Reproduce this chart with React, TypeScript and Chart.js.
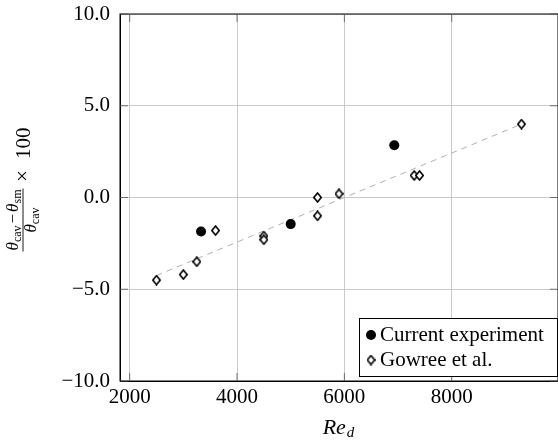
import React, { useEffect, useRef } from 'react';
import { Chart, registerables } from 'chart.js';

Chart.register(...registerables);

const FONT = '"Liberation Serif", "Times New Roman", serif';

// ---- data ----
const seriesLabels = ['Current experiment', 'Gowree et al.'];
const currentRe = [3330, 5000, 6930];
const currentVal = [-1.85, -1.45, 2.85];
const gowreeRe = [2500, 3000, 3250, 3600, 4500, 4500, 5500, 5500, 5900, 7300, 7400, 9300];
const gowreeVal = [-4.5, -4.2, -3.5, -1.8, -2.1, -2.3, 0.0, -1.0, 0.2, 1.2, 1.2, 4.0];
const fitRe = [2500, 9300];
const fitVal = [-4.25, 4.0];
const xTicks = [2000, 4000, 6000, 8000];
const yTicks = [-10, -5, 0, 5, 10];
const xRange = [1820, 9980];
const yRange = [-10, 10];

const fmtY = (v: number) => v.toFixed(1).replace('-', '\u2212');

function makeDiamond(): HTMLImageElement {
  const S = 4;
  const c = document.createElement('canvas');
  c.width = 9 * S;
  c.height = 11 * S;
  const g = c.getContext('2d')!;
  g.scale(S, S);
  g.beginPath();
  g.moveTo(4.5, 1.0);
  g.lineTo(8.2, 5.5);
  g.lineTo(4.5, 10.0);
  g.lineTo(0.8, 5.5);
  g.closePath();
  g.fillStyle = '#fff';
  g.fill();
  g.lineWidth = 1.6;
  g.lineJoin = 'miter';
  g.strokeStyle = '#000';
  g.stroke();
  const img = new Image(9, 11);
  img.src = c.toDataURL();
  return img;
}

export default function App() {
  const ref = useRef<HTMLCanvasElement>(null);

  useEffect(() => {
    const canvas = ref.current!;
    const diamond = makeDiamond();

    const decor = {
      id: 'decor',
      beforeDatasetsDraw(chart: any) {
        const { ctx, chartArea: a, scales } = chart;
        ctx.save();
        ctx.strokeStyle = '#000';
        ctx.lineWidth = 1;
        ctx.strokeRect(a.left, a.top, a.right - a.left, a.bottom - a.top);
        ctx.strokeStyle = '#555';
        ctx.lineWidth = 0.8;
        const L = 8;
        ctx.beginPath();
        for (const v of xTicks) {
          const p = scales.x.getPixelForValue(v);
          ctx.moveTo(p, a.bottom);
          ctx.lineTo(p, a.bottom - L);
          ctx.moveTo(p, a.top);
          ctx.lineTo(p, a.top + L);
        }
        for (const v of yTicks) {
          const p = scales.y.getPixelForValue(v);
          ctx.moveTo(a.left, p);
          ctx.lineTo(a.left + L, p);
          ctx.moveTo(a.right, p);
          ctx.lineTo(a.right - L, p);
        }
        ctx.stroke();
        ctx.restore();
      },
      afterDraw(chart: any) {
        const { ctx, chartArea: a } = chart;
        ctx.save();
        ctx.fillStyle = '#000';
        ctx.textBaseline = 'alphabetic';

        // x title: Re_d
        const fRe = `italic 22px ${FONT}`;
        const fD = `italic 15px ${FONT}`;
        ctx.font = fRe;
        const wRe = ctx.measureText('Re').width;
        ctx.font = fD;
        const wD = ctx.measureText('d').width;
        const cx = (a.left + a.right) / 2 - 1;
        const x0 = cx - (wRe + wD) / 2;
        ctx.font = fRe;
        ctx.fillText('Re', x0, 434);
        ctx.font = fD;
        ctx.fillText('d', x0 + wRe + 1, 437);

        // y title (rotated fraction)
        ctx.save();
        ctx.translate(23, 191);
        ctx.rotate(-Math.PI / 2);
        const big = `17px ${FONT}`;
        const bigI = `italic 17px ${FONT}`;
        const small = `12px ${FONT}`;
        type Part = { t: string; f: string; dy: number; gap?: number };
        const drawParts = (parts: Part[], centerX: number, base: number) => {
          let w = 0;
          for (const p of parts) {
            ctx.font = p.f;
            w += ctx.measureText(p.t).width + (p.gap || 0) * 2;
          }
          let x = centerX - w / 2;
          for (const p of parts) {
            ctx.font = p.f;
            x += p.gap || 0;
            ctx.fillText(p.t, x, base + p.dy);
            x += ctx.measureText(p.t).width + (p.gap || 0);
          }
          return w;
        };
        const num: Part[] = [
          { t: 'θ', f: bigI, dy: 0 },
          { t: 'cav', f: small, dy: 3 },
          { t: '\u2212', f: big, dy: 0, gap: 2 },
          { t: 'θ', f: bigI, dy: 0 },
          { t: 'sm', f: small, dy: 3 },
        ];
        const den: Part[] = [
          { t: 'θ', f: bigI, dy: 0 },
          { t: 'cav', f: small, dy: 3 },
        ];
        const fc = -29;
        const wn = drawParts(num, fc, -5);
        drawParts(den, fc, 13);
        ctx.lineWidth = 0.9;
        ctx.beginPath();
        ctx.moveTo(fc - wn / 2 - 1, 0);
        ctx.lineTo(fc + wn / 2 + 1, 0);
        ctx.stroke();
        ctx.font = `21px ${FONT}`;
        ctx.fillText('\u00d7', 9, 6);
        ctx.fillText('100', 32, 7);
        ctx.restore();

        // legend
        const lx = 359.5, ly = 318.5, lw = 198, lh = 58;
        ctx.fillStyle = '#fff';
        ctx.fillRect(lx, ly, lw, lh);
        ctx.strokeStyle = '#000';
        ctx.lineWidth = 1;
        ctx.strokeRect(lx, ly, lw, lh);
        ctx.fillStyle = '#000';
        ctx.beginPath();
        ctx.arc(371, 335, 5, 0, Math.PI * 2);
        ctx.fill();
        if (diamond.complete) ctx.drawImage(diamond, 371 - 4.5, 360 - 5.5, 9, 11);
        ctx.font = `21px ${FONT}`;
        const labels = chart.data.datasets.filter((d: any) => d.label).map((d: any) => d.label);
        ctx.fillText(labels[0], 380, 341);
        ctx.fillText(labels[1], 380, 366);
        ctx.restore();
      },
    };

    const chart = new Chart(canvas, {
      type: 'scatter',
      data: {
        datasets: [
          {
            label: seriesLabels[0],
            data: currentRe.map((x, i) => ({ x, y: currentVal[i] })),
            pointStyle: 'circle',
            pointRadius: 5,
            backgroundColor: '#000',
            borderColor: '#000',
            borderWidth: 0,
            order: 1,
          },
          {
            label: seriesLabels[1],
            data: gowreeRe.map((x, i) => ({ x, y: gowreeVal[i] })),
            pointStyle: diamond as any,
            pointRadius: 5,
            backgroundColor: '#fff',
            borderColor: '#000',
            order: 2,
          },
          {
            type: 'line' as any,
            label: '',
            data: fitRe.map((x, i) => ({ x, y: fitVal[i] })),
            borderColor: '#b0b0b0',
            borderWidth: 1,
            borderDash: [6, 5],
            pointRadius: 0,
            fill: false,
            order: 3,
          } as any,
        ],
      },
      options: {
        animation: false,
        responsive: false,
        layout: { padding: { top: 14, right: 2, bottom: 0, left: 0 } },
        plugins: { legend: { display: false }, tooltip: { enabled: false } },
        scales: {
          x: {
            type: 'linear',
            min: xRange[0],
            max: xRange[1],
            afterBuildTicks: (s: any) => {
              s.ticks = xTicks.map((v) => ({ value: v }));
            },
            afterFit: (s: any) => {
              s.height = 62;
              s.paddingLeft = 0;
              s.paddingRight = 0;
            },
            grid: { color: '#cacaca', lineWidth: 1, drawTicks: false },
            border: { color: '#000', width: 1 },
            ticks: {
              font: { family: FONT, size: 21 },
              color: '#000',
              padding: 4,
              maxRotation: 0,
              autoSkip: false,
              callback: (v: any) => String(v),
            },
          },
          y: {
            type: 'linear',
            min: yRange[0],
            max: yRange[1],
            afterBuildTicks: (s: any) => {
              s.ticks = yTicks.map((v) => ({ value: v }));
            },
            afterFit: (s: any) => {
              s.width = 120;
              s.paddingTop = 0;
              s.paddingBottom = 0;
            },
            grid: { color: '#cacaca', lineWidth: 1, drawTicks: false },
            border: { color: '#000', width: 1 },
            ticks: {
              font: { family: FONT, size: 21 },
              color: '#000',
              padding: 10,
              autoSkip: false,
              callback: (v: any) => fmtY(Number(v)),
            },
          },
        },
      },
      plugins: [decor],
    } as any);

    diamond.onload = () => chart.draw();
    if (diamond.complete) chart.draw();

    return () => {
      diamond.onload = null;
      chart.destroy();
    };
  }, []);

  return (
    <div
      style={{
        position: 'absolute',
        left: 0,
        top: 0,
        width: 558,
        height: 443,
        overflow: 'hidden',
        background: '#fff',
      }}
    >
      <canvas ref={ref} width={564} height={443} style={{ display: 'block', width: 564, height: 443 }} />
    </div>
  );
}
